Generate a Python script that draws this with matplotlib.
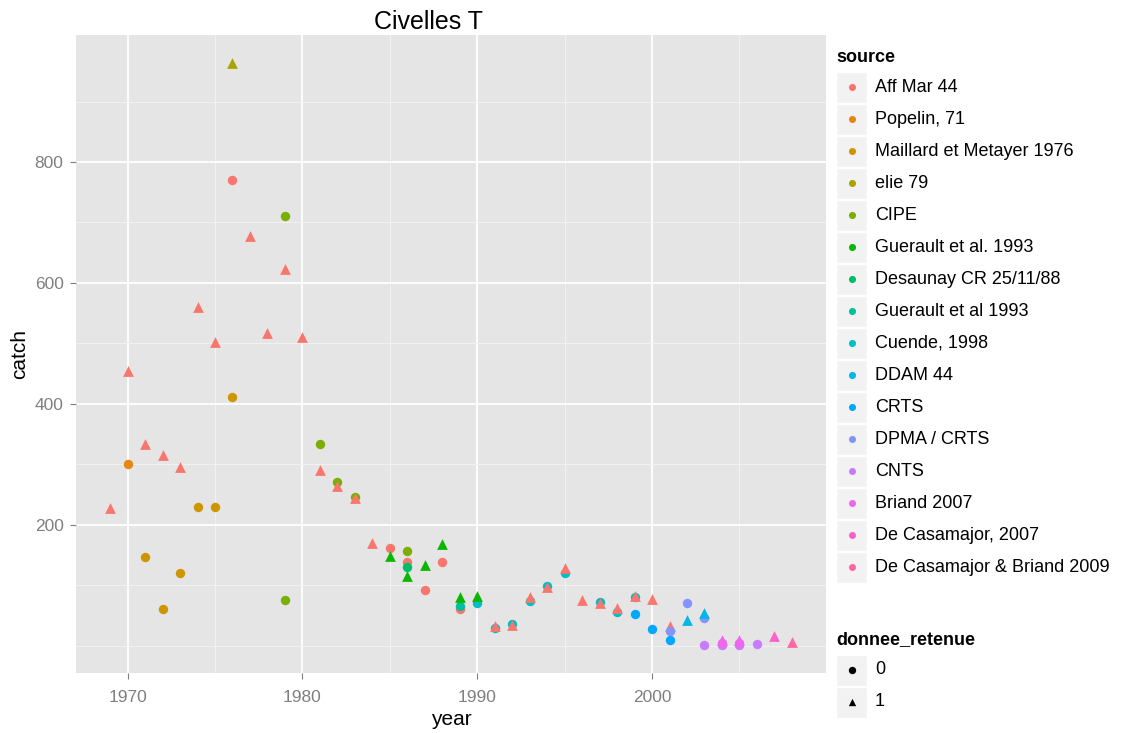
import matplotlib
matplotlib.use("Agg")
import matplotlib.pyplot as plt
from matplotlib.patches import Rectangle

plt.rcParams['font.family'] = ['Liberation Sans', 'DejaVu Sans']

# legend order of the sources and their ggplot hue colours
sources = ["Aff Mar 44", "Popelin, 71", "Maillard et Metayer 1976", "elie 79", "CIPE",
           "Guerault et al. 1993", "Desaunay CR 25/11/88", "Guerault et al 1993",
           "Cuende, 1998", "DDAM 44", "CRTS", "DPMA / CRTS", "CNTS", "Briand 2007",
           "De Casamajor, 2007", "De Casamajor & Briand 2009"]
colors = ["#F8766D", "#E68613", "#CD9600", "#ABA300", "#7CAE00", "#0CB702", "#00BE67",
          "#00C19A", "#00BFC4", "#00B8E7", "#00A9FF", "#8494FF", "#C77CFF", "#ED68ED",
          "#FF61CC", "#FF68A1"]

# data rows: year, catch, donnee_retenue, source index
year = [1970, 1971, 1972, 1973, 1974, 1975, 1976,
        1979, 1979, 1981, 1982, 1983, 1986,
        1990, 1991, 1992, 1993, 1994, 1995, 1997, 1998, 1999,
        1976, 1985, 1986, 1987, 1988, 1989,
        1986, 1989,
        1976,
        1969, 1970, 1971, 1972, 1973, 1974, 1975, 1977, 1978, 1979, 1980, 1981, 1982,
        1983, 1984, 1991, 1992, 1993, 1994, 1995, 1996, 1997, 1998, 1999, 2000, 2001,
        1985, 1986, 1987, 1988, 1989, 1990,
        1999, 2000, 2001,
        2001, 2002, 2003,
        2002, 2003,
        2003, 2004, 2005, 2006,
        2004, 2005, 2004, 2005,
        2007, 2008]
catch = [301, 146, 61, 120, 230, 229, 412,
         710, 75, 334, 271, 246, 157,
         70, 30, 36, 74, 99, 121, 72, 56, 81,
         771, 161, 138, 93, 138, 61,
         131, 66,
         963,
         228, 455, 333, 315, 295, 561, 502, 678, 518, 623, 511, 290, 264,
         244, 170, 32, 34, 80, 98, 128, 75, 70, 63, 82, 77, 33,
         148, 116, 133, 168, 81, 82,
         53, 27, 9,
         24, 71, 46,
         43, 54,
         2, 2, 2, 3,
         4, 4, 9, 9,
         16, 6]
retenue = [0, 0, 0, 0, 0, 0, 0,
           0, 0, 0, 0, 0, 0,
           0, 0, 0, 0, 0, 0, 0, 0, 0,
           0, 0, 0, 0, 0, 0,
           0, 0,
           1,
           1, 1, 1, 1, 1, 1, 1, 1, 1, 1, 1, 1, 1,
           1, 1, 1, 1, 1, 1, 1, 1, 1, 1, 1, 1, 1,
           1, 1, 1, 1, 1, 1,
           0, 0, 0,
           0, 0, 0,
           1, 1,
           0, 0, 0, 0,
           0, 0, 1, 1,
           1, 1]
src = [1, 2, 2, 2, 2, 2, 2,
       4, 4, 4, 4, 4, 4,
       8, 8, 8, 8, 8, 8, 8, 8, 8,
       0, 0, 0, 0, 0, 0,
       6, 7,
       3,
       0, 0, 0, 0, 0, 0, 0, 0, 0, 0, 0, 0, 0,
       0, 0, 0, 0, 0, 0, 0, 0, 0, 0, 0, 0, 0,
       5, 5, 5, 5, 5, 5,
       10, 10, 10,
       11, 11, 11,
       9, 9,
       12, 12, 12, 12,
       13, 13, 13, 13,
       14, 15]

fig = plt.figure(figsize=(11.27, 7.33), dpi=100)
ax = fig.add_axes([76 / 1127, 1 - 673 / 733, 750 / 1127, 638 / 733])
ax.set_facecolor("#E5E5E5")

for i in range(len(year)):
    if retenue[i] == 1:
        ax.scatter(year[i], catch[i], marker="^", s=60, color=colors[src[i]], linewidths=0, zorder=3)
    else:
        ax.scatter(year[i], catch[i], marker="o", s=46, color=colors[src[i]], linewidths=0, zorder=3)

ax.set_xlim(1967.05, 2009.95)
ax.set_ylim(-45, 1010)
ax.set_xticks([1970, 1980, 1990, 2000])
ax.set_xticks([1975, 1985, 1995, 2005], minor=True)
ax.set_yticks([200, 400, 600, 800])
ax.set_yticks([0, 100, 300, 500, 700, 900], minor=True)
ax.grid(which="major", color="white", linewidth=1.3)
ax.grid(which="minor", color="#F2F2F2", linewidth=0.7)
ax.set_axisbelow(True)
for sp in ax.spines.values():
    sp.set_visible(False)
ax.tick_params(axis="x", which="major", length=4, color="#7F7F7F", labelcolor="#7F7F7F", labelsize=12.5, pad=8)
ax.tick_params(axis="y", which="major", length=4, color="#7F7F7F", labelcolor="#7F7F7F", labelsize=12.5, pad=5)
ax.tick_params(which="minor", length=0)
ax.set_xlabel("year", fontsize=15, labelpad=4)
ax.set_ylabel("catch", fontsize=15, labelpad=4)
fig.text(428 / 1127, 1 - 22 / 733, "Civelles T", fontsize=18, ha="center", va="center")

# legends drawn in pixel coordinates
lg = fig.add_axes([0, 0, 1, 1])
lg.set_xlim(0, 1127)
lg.set_ylim(733, 0)
lg.axis("off")

lg.text(836, 57, "source", fontsize=13, fontweight="bold", va="center", ha="left")
for k in range(len(sources)):
    yc = 87 + k * 32
    lg.add_patch(Rectangle((836, yc - 15.5), 31, 31, facecolor="#F2F2F2", edgecolor="white", linewidth=1))
    lg.scatter(852, yc, s=26, color=colors[k], linewidths=0)
    lg.text(875, yc, sources[k], fontsize=13, va="center", ha="left")

lg.text(836, 640, "donnee_retenue", fontsize=13, fontweight="bold", va="center", ha="left")
for k, (lab, mk) in enumerate([("0", "o"), ("1", "^")]):
    yc = 670 + k * 32
    lg.add_patch(Rectangle((836, yc - 15.5), 31, 31, facecolor="#F2F2F2", edgecolor="white", linewidth=1))
    lg.scatter(852, yc, s=28, color="black", marker=mk, linewidths=0)
    lg.text(875, yc, lab, fontsize=13, va="center", ha="left")

fig.savefig("out.png", dpi=100)
